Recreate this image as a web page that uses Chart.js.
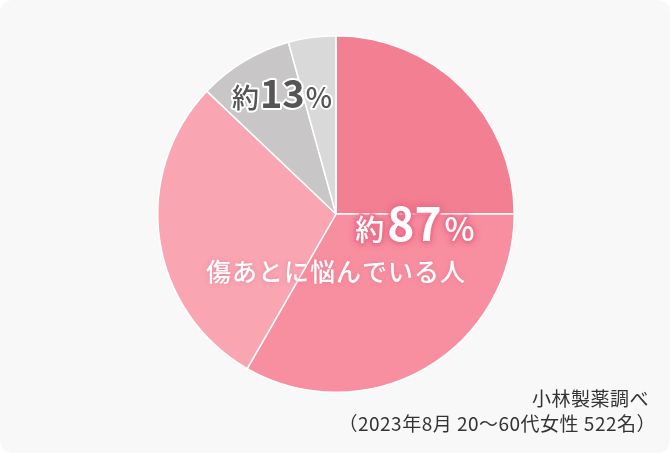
<!DOCTYPE html>
<html lang="ja">
<head>
<meta charset="utf-8">
<title>傷あとに悩んでいる人</title>
<script src="https://cdn.jsdelivr.net/npm/chart.js@4"></script>
<style>
  html, body { margin: 0; padding: 0; background: #ffffff; }
  #wrap { width: 670px; height: 453px; }
</style>
</head>
<body>
<div id="wrap"><canvas id="my-chart" width="670" height="453"></canvas></div>
<script>
'use strict';

// ******** DATA **************
let sliceNames = ['悩んでいる（1）', '悩んでいる（2）', '悩んでいる（3）', '悩んでいない（1）', '悩んでいない（2）'];
let sliceValues = [25, 33.3, 28.8, 8.6, 4.3];
let sliceColors = ['#f37f93', '#f88fa1', '#f9a5b2', '#c8c6c7', '#d9d9d9'];

let bigPrefix = '約';
let bigNumbers = ['87', '13'];
let bigCaption = '傷あとに悩んでいる人';
let sourceLines = ['小林製薬調べ', '（2023年8月 20～60代女性 522名）'];

const JP_FONT = '"Noto Sans CJK JP", "Noto Sans", sans-serif';

// ********* HELPERS ****************
function roundRect(ctx, x, y, w, h, r) {
  ctx.beginPath();
  ctx.moveTo(x + r, y);
  ctx.lineTo(x + w - r, y);
  ctx.quadraticCurveTo(x + w, y, x + w, y + r);
  ctx.lineTo(x + w, y + h - r);
  ctx.quadraticCurveTo(x + w, y + h, x + w - r, y + h);
  ctx.lineTo(x + r, y + h);
  ctx.quadraticCurveTo(x, y + h, x, y + h - r);
  ctx.lineTo(x, y + r);
  ctx.quadraticCurveTo(x, y, x + r, y);
  ctx.closePath();
}

// draws "約" + number + "%" as one line, centred on cx, sitting on baseline
function drawPercent(ctx, cx, baseline, num, sizes, gaps, fill, stroke, strokeW) {
  let parts = [
    { t: bigPrefix, f: '500 ' + sizes[0] + 'px ' + JP_FONT, gap: gaps[0] },
    { t: num, f: '700 ' + sizes[1] + 'px ' + JP_FONT, gap: gaps[1] },
    { t: '%', f: '500 ' + sizes[2] + 'px ' + JP_FONT, gap: 0 }
  ];
  let total = 0;
  parts.forEach(function (p) {
    ctx.font = p.f;
    p.w = ctx.measureText(p.t).width;
    total += p.w + p.gap;
  });
  let x = cx - total / 2;
  ctx.textAlign = 'left';
  ctx.textBaseline = 'alphabetic';
  ctx.lineJoin = 'round';
  parts.forEach(function (p) {
    ctx.font = p.f;
    ctx.strokeStyle = stroke;
    ctx.lineWidth = strokeW;
    ctx.strokeText(p.t, x, baseline);
    ctx.fillStyle = fill;
    ctx.fillText(p.t, x, baseline);
    x += p.w + p.gap;
  });
}

// ********* PLUGINS ****************
let backgroundPlugin = {
  id: 'panelBackground',
  beforeDraw: function (chart) {
    let ctx = chart.ctx;
    ctx.save();
    ctx.fillStyle = '#f8f8f8';
    roundRect(ctx, 0, 0, chart.width, chart.height, 14);
    ctx.fill();
    ctx.restore();
  }
};

let labelPlugin = {
  id: 'pieLabels',
  afterDraw: function (chart) {
    let ctx = chart.ctx;
    let arc = chart.getDatasetMeta(0).data[0];
    let cx = arc.x;
    let cy = arc.y;
    ctx.save();

    // big pink share
    ctx.shadowColor = 'rgba(230, 90, 120, 0.55)';
    ctx.shadowBlur = 6;
    drawPercent(ctx, cx + 79, cy + 27, bigNumbers[0], [29, 46, 32], [3, 3], '#ffffff', 'rgba(240, 120, 145, 0.75)', 5);
    ctx.shadowBlur = 0;

    // caption under it
    ctx.font = '500 25px ' + JP_FONT;
    ctx.textAlign = 'center';
    ctx.textBaseline = 'alphabetic';
    ctx.letterSpacing = '1px';
    ctx.shadowColor = 'rgba(230, 100, 125, 0.5)';
    ctx.shadowBlur = 4;
    ctx.fillStyle = '#ffffff';
    ctx.fillText(bigCaption, cx, cy + 67);
    ctx.shadowBlur = 0;
    ctx.letterSpacing = '0px';

    // grey share
    drawPercent(ctx, cx - 54, cy - 106, bigNumbers[1], [27, 38, 28], [1, 1], '#555555', '#ffffff', 4);

    // source note
    ctx.font = '400 19px ' + JP_FONT;
    ctx.textAlign = 'right';
    ctx.letterSpacing = '0.5px';
    ctx.fillStyle = '#333333';
    ctx.fillText(sourceLines[0], 649, 406);
    ctx.fillText(sourceLines[1], 656, 431);
    ctx.restore();
  }
};

// ********* CHART ****************
let canvasElem = document.getElementById('my-chart');

new Chart(canvasElem, {
  type: 'pie',
  data: {
    labels: sliceNames,
    datasets: [{
      data: sliceValues,
      backgroundColor: sliceColors,
      borderColor: '#ffffff',
      borderWidth: 1.5
    }]
  },
  options: {
    responsive: false,
    animation: false,
    layout: {
      padding: { left: 157, right: 155, top: 35, bottom: 60 }
    },
    plugins: {
      legend: { display: false },
      tooltip: { enabled: false }
    }
  },
  plugins: [backgroundPlugin, labelPlugin]
});
</script>
</body>
</html>
